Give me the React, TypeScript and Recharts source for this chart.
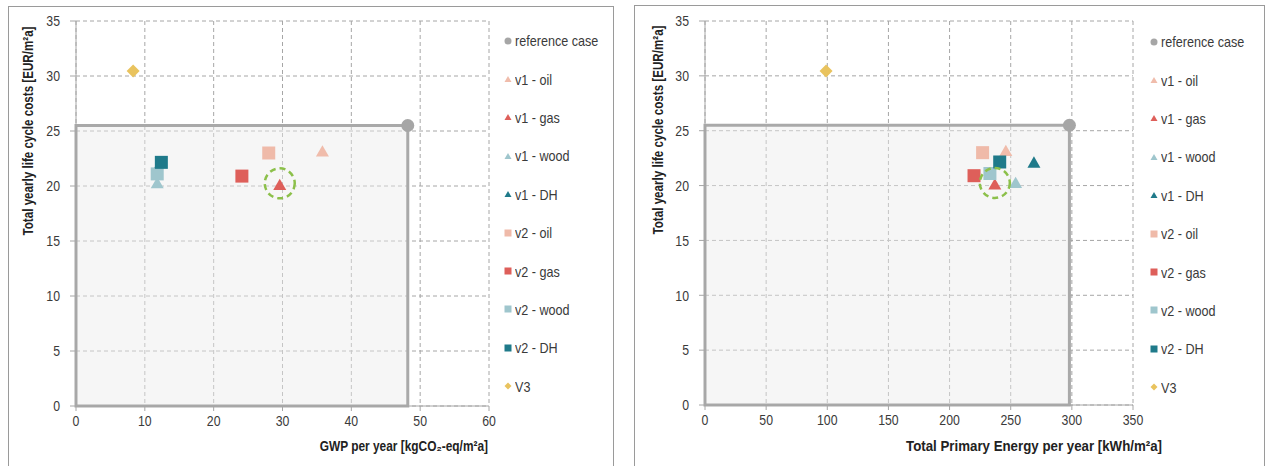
import React from "react"
import { ScatterChart, Scatter, XAxis, YAxis, CartesianGrid, ReferenceArea, Legend, Label } from "recharts"

const seriesNames = ["reference case", "v1 - oil", "v1 - gas", "v1 - wood", "v1 - DH", "v2 - oil", "v2 - gas", "v2 - wood", "v2 - DH", "V3"]
const seriesColors = ["#a6a6a6", "#f0bcab", "#de5f5a", "#9fc6cd", "#1f7a8a", "#efbaa9", "#de5f5a", "#9fc6cd", "#1f7a8a", "#e9c35e"]
const seriesShapes = ["circle", "triangle", "triangle", "triangle", "triangle", "square", "square", "square", "square", "diamond"]

// yearly life cycle costs [EUR/m²a], same for both charts
const costValues = [25.5, 23.2, 20.15, 20.3, 22.15, 23.0, 20.9, 21.1, 22.15, 30.45]
// GWP per year [kgCO2-eq/m²a]
const gwpValues = [48.2, 35.8, 29.6, 11.8, 12.3, 28.0, 24.1, 11.8, 12.4, 8.3]
// total primary energy per year [kWh/m²a]
const energyValues = [298, 246, 237, 254, 269, 227, 220, 233, 241, 99]

const costTicks = [0, 5, 10, 15, 20, 25, 30, 35]
const gwpTicks = [0, 10, 20, 30, 40, 50, 60]
const energyTicks = [0, 50, 100, 150, 200, 250, 300, 350]
const highlighted = "v1 - gas"

const FONT = "'Liberation Sans', Arial, sans-serif"
const GRID = "#a6a6a6"
const TEXT = "#3a3a3a"
const SQUEEZE = 0.82

const Marker = ({ cx, cy, kind, color, s }: any) => {
  if (cx == null || cy == null) return null
  if (kind === "circle") return <circle cx={cx} cy={cy} r={s / 2} fill={color} />
  if (kind === "square") return <rect x={cx - s / 2} y={cy - s / 2} width={s} height={s} fill={color} />
  if (kind === "diamond")
    return <polygon points={`${cx},${cy - s / 2} ${cx + s / 2},${cy} ${cx},${cy + s / 2} ${cx - s / 2},${cy}`} fill={color} />
  const h = s * 0.87
  return <polygon points={`${cx},${cy - h / 2} ${cx + s / 2},${cy + h / 2} ${cx - s / 2},${cy + h / 2}`} fill={color} />
}

// narrow-looking tick labels (no Arial Narrow available)
const NarrowTick = ({ x, y, payload, textAnchor, verticalAnchor }: any) => (
  <g transform={`translate(${x},${y})`}>
    <text
      transform={`scale(${SQUEEZE},1)`}
      textAnchor={textAnchor}
      dy={verticalAnchor === "start" ? "0.71em" : "0.355em"}
      fontSize={15}
      fill={TEXT}
      fontFamily={FONT}
    >
      {payload.value}
    </text>
  </g>
)

const LegendContent = () => (
  <div style={{ fontFamily: FONT, fontSize: 15, color: TEXT }}>
    {seriesNames.map((name, i) => (
      <div key={name} style={{ height: 38.4, display: "flex", alignItems: "center", whiteSpace: "nowrap" }}>
        <svg width={8} height={8} style={{ marginRight: 3 }}>
          <Marker cx={4} cy={4} kind={seriesShapes[i]} color={seriesColors[i]} s={7} />
        </svg>
        <span style={{ display: "inline-block", transform: "scaleX(0.84)", transformOrigin: "left center" }}>{name}</span>
      </div>
    ))}
  </div>
)

function CostChart({ xValues, xTicks, xTitle, xTitleScale, width, height, margin, legendPos, yTitlePos, xTitlePos }: any) {
  const refX = xValues[0]
  const refY = costValues[0]
  const hi = seriesNames.indexOf(highlighted)
  return (
    <ScatterChart width={width} height={height} margin={margin} style={{ fontFamily: FONT }}>
      <ReferenceArea x1={0} x2={refX} y1={0} y2={refY} fill="#ececec" fillOpacity={0.45} stroke="#a9a9a9" strokeWidth={3} />
      <CartesianGrid strokeDasharray="4 3" stroke={GRID} />
      <XAxis
        type="number"
        dataKey="x"
        domain={[xTicks[0], xTicks[xTicks.length - 1]]}
        ticks={xTicks}
        interval={0}
        stroke={GRID}
        tickSize={5}
        tickMargin={4}
        height={30}
        tick={<NarrowTick />}
      >
        <Label
          content={() => (
            <g transform={`translate(${xTitlePos[0]},${xTitlePos[1]}) scale(${xTitleScale},1)`}>
              <text x={0} y={0} textAnchor="end" fontSize={14} fontWeight="bold" fill="#222" fontFamily={FONT}>
                {xTitle}
              </text>
            </g>
          )}
        />
      </XAxis>
      <YAxis
        type="number"
        dataKey="y"
        domain={[0, 35]}
        ticks={costTicks}
        interval={0}
        stroke={GRID}
        tickSize={6}
        tickMargin={10}
        width={40}
        tick={<NarrowTick />}
      >
        <Label
          content={() => (
            <g transform={`translate(${yTitlePos[0]},${yTitlePos[1]}) rotate(-90) scale(0.83,1)`}>
              <text x={0} y={0} textAnchor="middle" dominantBaseline="central" fontSize={14} fontWeight="bold" fill="#222" fontFamily={FONT}>
                Total yearly life cycle costs [EUR/m²a]
              </text>
            </g>
          )}
        />
      </YAxis>
      {seriesNames.map((name, i) => (
        <Scatter
          key={name}
          name={name}
          data={[{ x: xValues[i], y: costValues[i] }]}
          isAnimationActive={false}
          shape={(p: any) => <Marker cx={p.cx} cy={p.cy} kind={seriesShapes[i]} color={seriesColors[i]} s={13} />}
        />
      ))}
      <Scatter
        name="highlight"
        legendType="none"
        data={[{ x: xValues[hi], y: costValues[hi] }]}
        isAnimationActive={false}
        shape={(p: any) => (
          <circle cx={p.cx} cy={p.cy - 1} r={15} fill="none" stroke="#8cc04a" strokeWidth={2.5} strokeDasharray="6 4" />
        )}
      />
      <Legend
        layout="vertical"
        align="center"
        verticalAlign="middle"
        wrapperStyle={{ left: legendPos[0], top: legendPos[1], width: 110 }}
        content={<LegendContent />}
      />
    </ScatterChart>
  )
}

export default function App() {
  return (
    <div style={{ position: "relative", width: 1271, height: 466, overflow: "hidden", background: "#fff" }}>
      <style>{`body{margin:0}`}</style>
      <div style={{ position: "absolute", left: 8, top: 6, width: 604, height: 480, border: "1px solid #9a9a9a" }} />
      <div style={{ position: "absolute", left: 634, top: 5, width: 629, height: 480, border: "1px solid #9a9a9a" }} />
      <div style={{ position: "absolute", left: 8, top: 6 }}>
        <CostChart
          xValues={gwpValues}
          xTicks={gwpTicks}
          xTitle="GWP per year [kgCO₂-eq/m²a]"
          xTitleScale={0.85}
          width={605}
          height={460}
          margin={{ top: 15, right: 124, bottom: 30, left: 28 }}
          legendPos={[496, 15.5]}
          yTitlePos={[20, 125]}
          xTitlePos={[480, 445]}
        />
      </div>
      <div style={{ position: "absolute", left: 634, top: 5 }}>
        <CostChart
          xValues={energyValues}
          xTicks={energyTicks}
          xTitle="Total Primary Energy per year [kWh/m²a]"
          xTitleScale={0.95}
          width={630}
          height={461}
          margin={{ top: 16, right: 131, bottom: 31, left: 31 }}
          legendPos={[516, 17.5]}
          yTitlePos={[24, 125]}
          xTitlePos={[528, 446]}
        />
      </div>
    </div>
  )
}
